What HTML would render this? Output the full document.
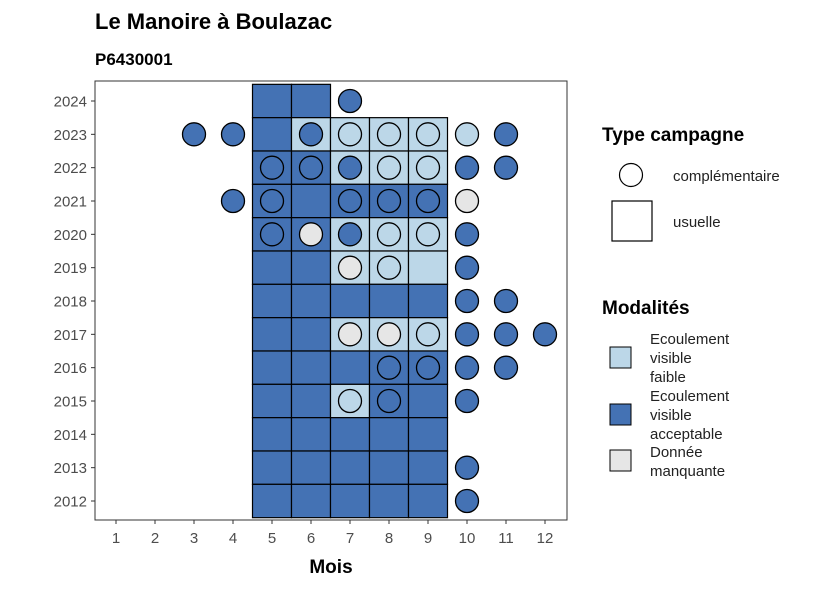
<!DOCTYPE html>
<html><head><meta charset="utf-8"><style>
body{margin:0;background:#fff;}
svg{display:block;font-family:"Liberation Sans",sans-serif;}
</style></head><body>
<svg id="chart" width="826" height="590" viewBox="0 0 826 590">
<rect x="0" y="0" width="826" height="590" fill="#fff"/>
<text x="95" y="29" font-size="22" font-weight="bold" fill="#000">Le Manoire à Boulazac</text>
<text x="95" y="65" font-size="17" font-weight="bold" fill="#000">P6430001</text>
<g id="tiles"></g>
<g id="points"></g>
<rect x="95" y="81" width="472" height="439" fill="none" stroke="#333" stroke-width="1"/>
<g id="axes"></g>
<text x="331" y="573" font-size="19" font-weight="bold" text-anchor="middle">Mois</text>
<g>
<text x="602" y="141" font-size="19" font-weight="bold">Type campagne</text>
<circle cx="631" cy="175" r="11.5" fill="#fff" stroke="#000" stroke-width="1.2"/>
<text x="673" y="181" font-size="15" fill="#222">complémentaire</text>
<rect x="612" y="201" width="40" height="40" fill="#fff" stroke="#000" stroke-width="1.2"/>
<text x="673" y="227" font-size="15" fill="#222">usuelle</text>
</g>
<g>
<text x="602" y="314" font-size="19" font-weight="bold">Modalités</text>
<rect x="610" y="347" width="21" height="21" fill="#bcd7e8" stroke="#000"/>
<text font-size="15" fill="#222"><tspan x="650" y="344">Ecoulement</tspan><tspan x="650" y="363">visible</tspan><tspan x="650" y="382">faible</tspan></text>
<rect x="610" y="404" width="21" height="21" fill="#4472b4" stroke="#000"/>
<text font-size="15" fill="#222"><tspan x="650" y="401">Ecoulement</tspan><tspan x="650" y="420">visible</tspan><tspan x="650" y="439">acceptable</tspan></text>
<rect x="610" y="450" width="21" height="21" fill="#e6e6e6" stroke="#000"/>
<text font-size="15" fill="#222"><tspan x="650" y="457">Donnée</tspan><tspan x="650" y="476">manquante</tspan></text>
</g>
</svg>
<script>
const months = [1,2,3,4,5,6,7,8,9,10,11,12];
const years = [2012,2013,2014,2015,2016,2017,2018,2019,2020,2021,2022,2023,2024];
// usual campaign tiles: [year, month, modality]  A=acceptable F=faible M=manquante
const tileYears  = [2024,2024, 2023,2023,2023,2023,2023, 2022,2022,2022,2022,2022, 2021,2021,2021,2021,2021, 2020,2020,2020,2020,2020, 2019,2019,2019,2019,2019, 2018,2018,2018,2018,2018, 2017,2017,2017,2017,2017, 2016,2016,2016,2016,2016, 2015,2015,2015,2015,2015, 2014,2014,2014,2014,2014, 2013,2013,2013,2013,2013, 2012,2012,2012,2012,2012];
const tileMonths = [5,6, 5,6,7,8,9, 5,6,7,8,9, 5,6,7,8,9, 5,6,7,8,9, 5,6,7,8,9, 5,6,7,8,9, 5,6,7,8,9, 5,6,7,8,9, 5,6,7,8,9, 5,6,7,8,9, 5,6,7,8,9, 5,6,7,8,9];
const tileMods   = ['A','A', 'A','F','F','F','F', 'A','A','F','F','F', 'A','A','A','A','A', 'A','A','F','F','F', 'A','A','F','F','F', 'A','A','A','A','A', 'A','A','F','F','F', 'A','A','A','A','A', 'A','A','F','A','A', 'A','A','A','A','A', 'A','A','A','A','A', 'A','A','A','A','A'];
// complementary campaign points
const ptYears  = [2024, 2023,2023,2023,2023,2023,2023,2023,2023, 2022,2022,2022,2022,2022,2022,2022, 2021,2021,2021,2021,2021,2021, 2020,2020,2020,2020,2020,2020, 2019,2019,2019, 2018,2018, 2017,2017,2017,2017,2017,2017, 2016,2016,2016,2016, 2015,2015,2015, 2013, 2012];
const ptMonths = [7, 3,4,6,7,8,9,10,11, 5,6,7,8,9,10,11, 4,5,7,8,9,10, 5,6,7,8,9,10, 7,8,10, 10,11, 7,8,9,10,11,12, 8,9,10,11, 7,8,10, 10, 10];
const ptMods   = ['A', 'A','A','A','F','F','F','F','A', 'A','A','A','F','F','A','A', 'A','A','A','A','A','M', 'A','M','A','F','F','A', 'M','F','A', 'A','A', 'M','M','F','A','A','A', 'A','A','A','A', 'F','A','A', 'A', 'A'];
const colors = {A:'#4472b4', F:'#bcd7e8', M:'#e6e6e6'};
const NS='http://www.w3.org/2000/svg';
const x = m => 116 + (m-1)*39;
const y = yr => 101 + (2024-yr)*(400/12);
const bw = 39, bh = 400/12;
const tg = document.getElementById('tiles');
tileYears.forEach((yr,i)=>{
  const r=document.createElementNS(NS,'rect');
  r.setAttribute('x',x(tileMonths[i])-bw/2);r.setAttribute('y',Math.max(81,y(yr)-bh/2));
  r.setAttribute('width',bw);r.setAttribute('height',y(yr)+bh/2-Math.max(81,y(yr)-bh/2));
  r.setAttribute('fill',colors[tileMods[i]]);r.setAttribute('stroke','#000');r.setAttribute('stroke-width','1.2');
  
  
  tg.appendChild(r);
});
const pg = document.getElementById('points');
ptYears.forEach((yr,i)=>{
  const c=document.createElementNS(NS,'circle');
  c.setAttribute('cx',x(ptMonths[i]));c.setAttribute('cy',y(yr));c.setAttribute('r',11.5);
  c.setAttribute('fill',colors[ptMods[i]]);c.setAttribute('stroke','#000');c.setAttribute('stroke-width','1.3');
  
  
  pg.appendChild(c);
});
const ag = document.getElementById('axes');
months.forEach(m=>{
  const l=document.createElementNS(NS,'line');
  l.setAttribute('x1',x(m));l.setAttribute('x2',x(m));l.setAttribute('y1',520);l.setAttribute('y2',524);l.setAttribute('stroke','#333');
  
  
  ag.appendChild(l);
  const t=document.createElementNS(NS,'text');
  t.setAttribute('x',x(m));t.setAttribute('y',543);t.setAttribute('text-anchor','middle');t.setAttribute('font-size','15');t.setAttribute('fill','#4d4d4d');
  t.textContent=m;
  
  
  ag.appendChild(t);
});
years.forEach(yr=>{
  const l=document.createElementNS(NS,'line');
  l.setAttribute('x1',91);l.setAttribute('x2',95);l.setAttribute('y1',y(yr));l.setAttribute('y2',y(yr));l.setAttribute('stroke','#333');
  
  
  ag.appendChild(l);
  const t=document.createElementNS(NS,'text');
  t.setAttribute('x',87);t.setAttribute('y',y(yr)+5.5);t.setAttribute('text-anchor','end');t.setAttribute('font-size','15');t.setAttribute('fill','#4d4d4d');
  t.textContent=yr;
  
  
  ag.appendChild(t);
});
</script>
</body></html>
